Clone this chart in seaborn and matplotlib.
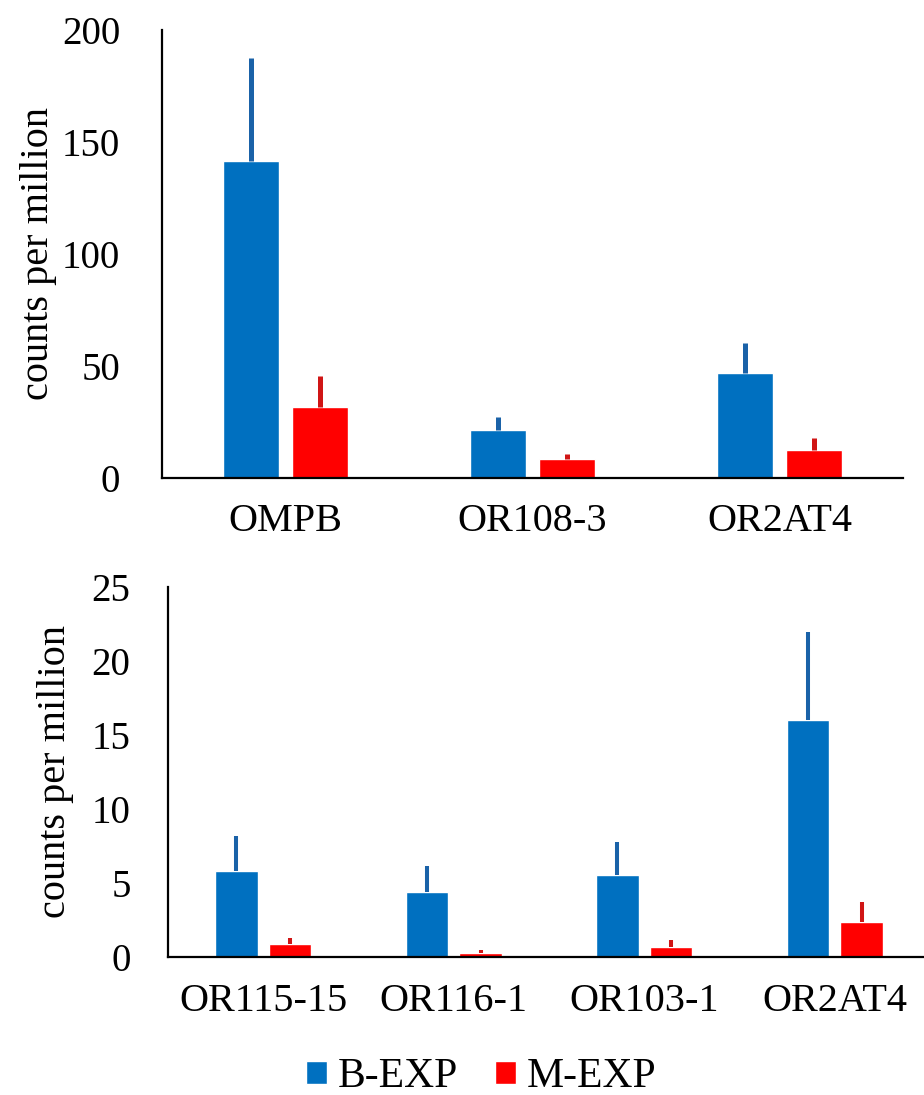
import numpy as np
import pandas as pd
import matplotlib
matplotlib.use("Agg")
import matplotlib.pyplot as plt
import seaborn as sns

# ---- data ----
groups = ["B-EXP", "M-EXP"]

top_genes = ["OMPB", "OR108-3", "OR2AT4"]
top_b = [141.5, 21.6, 46.7]
top_b_err = [46.1, 5.8, 13.7]
top_m = [31.8, 8.3, 12.4]
top_m_err = [13.7, 2.4, 5.3]

bot_genes = ["OR115-15", "OR116-1", "OR103-1", "OR2AT4"]
bot_b = [5.8, 4.4, 5.5, 16.0]
bot_b_err = [2.4, 1.74, 2.28, 6.0]
bot_m = [0.84, 0.27, 0.68, 2.33]
bot_m_err = [0.45, 0.18, 0.45, 1.4]

top_ticks = [0, 50, 100, 150, 200]
bot_ticks = [0, 5, 10, 15, 20, 25]

bar_colors = {"B-EXP": "#0070C0", "M-EXP": "#FF0000"}
err_colors = ["#1A62A8", "#D01515"]

sns.set_style("white")
plt.rcParams["font.family"] = ["Liberation Serif", "DejaVu Serif"]
plt.rcParams["text.color"] = "black"
plt.rcParams["axes.labelcolor"] = "black"
plt.rcParams["xtick.color"] = "black"
plt.rcParams["ytick.color"] = "black"

fig = plt.figure(figsize=(9.24, 10.95), dpi=100)
ax1 = fig.add_axes([162 / 924, 1 - 478 / 1095, 741 / 924, 448 / 1095])
ax2 = fig.add_axes([168 / 924, 1 - 956.7 / 1095, 762 / 924, 369.4 / 1095])


def make_df(genes, b, m):
    return pd.DataFrame({
        "gene": genes * 2,
        "cpm": list(b) + list(m),
        "group": [groups[0]] * len(genes) + [groups[1]] * len(genes),
    })


def draw(ax, genes, b, be, m, me, ticks, ytickpad, xtickpad, elw, ylab_x):
    df = make_df(genes, b, m)
    sns.barplot(data=df, x="gene", y="cpm", hue="group", hue_order=groups,
                palette=bar_colors, saturation=1, width=0.562, gap=0.2,
                errorbar=None, ax=ax)
    for cont, errs, ec in zip(ax.containers, [be, me], err_colors):
        xs = [p.get_x() + p.get_width() / 2 for p in cont.patches]
        hs = [p.get_height() for p in cont.patches]
        ax.errorbar(xs, hs, yerr=[np.zeros(len(errs)), errs], fmt="none",
                    ecolor=ec, elinewidth=elw, capsize=0, zorder=1)
    ax.set_xlim(-0.5, len(genes) - 0.5)
    ax.set_ylim(ticks[0], ticks[-1])
    ax.set_yticks(ticks)
    ax.set_xlabel("")
    ax.set_ylabel("counts per million", fontsize=29, va="center", color="black")
    ax.yaxis.set_label_coords(ylab_x, 0.5)
    ax.tick_params(axis="y", length=0, pad=ytickpad, labelsize=28, labelcolor="black")
    ax.tick_params(axis="x", length=0, pad=xtickpad, labelsize=29, labelcolor="black")
    for s in ["top", "right"]:
        ax.spines[s].set_visible(False)
    for s in ["left", "bottom"]:
        ax.spines[s].set_color("black")
        ax.spines[s].set_linewidth(1.6)
    ax.grid(False)


draw(ax1, top_genes, top_b, top_b_err, top_m, top_m_err, top_ticks,
     30, 18, 3.6, (39 - 162) / 741)
draw(ax2, bot_genes, bot_b, bot_b_err, bot_m, bot_m_err, bot_ticks,
     27, 19, 2.9, (56 - 168) / 762)

handles, labels = ax1.get_legend_handles_labels()
for a in (ax1, ax2):
    if a.get_legend() is not None:
        a.get_legend().remove()

fig.legend(handles, labels, loc="center", bbox_to_anchor=(481 / 924, 1 - 1077 / 1095),
           ncol=2, frameon=False, fontsize=30, handlelength=0.5, handleheight=0.5,
           handletextpad=0.25, columnspacing=0.9, borderpad=0, labelcolor="black")

fig.savefig("out.png", dpi=100)
